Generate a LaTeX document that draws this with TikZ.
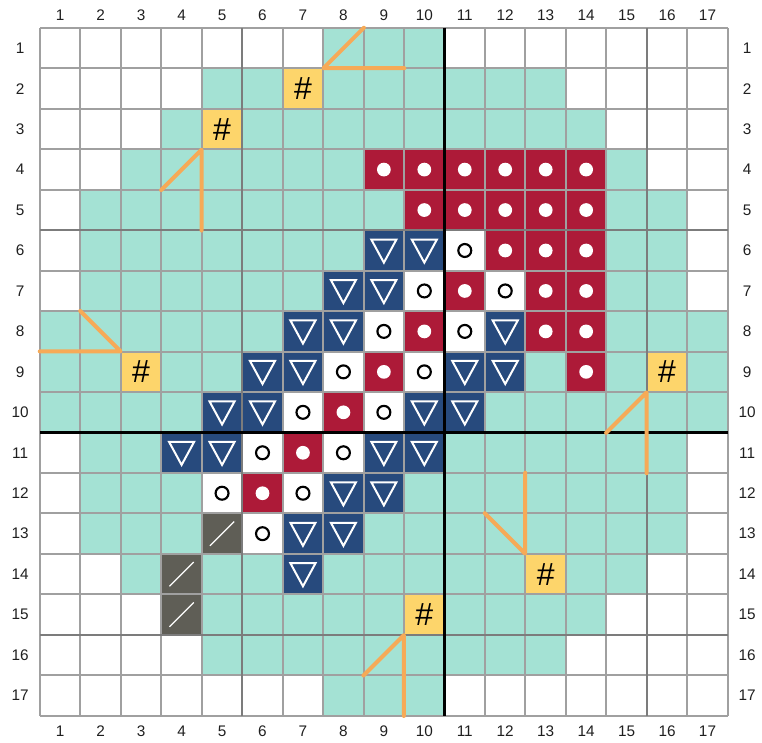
\documentclass[tikz,border=0pt]{standalone}
\usepackage{fontspec}
\setmainfont{Liberation Sans}
\usepackage{tikz}
\usetikzlibrary{positioning,calc}
\usepackage{xcolor}

\definecolor{tealcell}{HTML}{A4E2D4}
\definecolor{redcell}{HTML}{AD1A38}
\definecolor{bluecell}{HTML}{274A7D}
\definecolor{yellowcell}{HTML}{FDD56B}
\definecolor{darkcell}{HTML}{5F5E56}
\definecolor{orangemark}{HTML}{F6AA57}
\definecolor{gridgray}{HTML}{A0A0A0}
\definecolor{blockgray}{HTML}{7C7C7C}

\begin{document}
\begin{tikzpicture}[x=30.34pt,y=-30.34pt,font=\fontsize{11.5}{13}\selectfont,
  gridline/.style={gridgray,line width=1.5pt},
  blockline/.style={blockgray,line width=1.7pt},
  axisline/.style={black,line width=2.6pt},
  orangeline/.style={orangemark,line width=3pt,line cap=round,line join=round},
  hashmark/.style={minimum size=30.34pt,inner sep=0pt,
    font=\fontsize{24}{24}\selectfont},
  numlabel/.style={text=black!88}]
\useasboundingbox (-0.989,-0.692) rectangle (17.847,17.652);

% One macro per cell kind, drawn round the cell centre.
\newcommand{\cellw}{\fill[white] (-0.5,-0.5) rectangle (0.5,0.5);}
\newcommand{\cellg}{\fill[tealcell] (-0.5,-0.5) rectangle (0.5,0.5);}
\newcommand{\celly}{\fill[yellowcell] (-0.5,-0.5) rectangle (0.5,0.5);}
\newcommand{\cellr}{%
  \fill[redcell] (-0.5,-0.5) rectangle (0.5,0.5);
  \fill[white] (0,0) circle (0.17);}
\newcommand{\cellb}{%
  \fill[bluecell] (-0.5,-0.5) rectangle (0.5,0.5);
  \draw[white,line width=1.5pt]
    (-0.31,-0.27) -- (0.31,-0.27) -- (0,0.30) -- cycle;}
\newcommand{\cello}{%
  \fill[white] (-0.5,-0.5) rectangle (0.5,0.5);
  \draw[black,line width=1.6pt] (0,0) circle (0.16);}
\newcommand{\celld}{%
  \fill[darkcell] (-0.5,-0.5) rectangle (0.5,0.5);
  \draw[white,line width=0.9pt] (-0.3,0.3) -- (0.3,-0.3);}

% Board, row by row.
\foreach \cells [count=\r] in {
  {w,w,w,w,w,w,w,g,g,g,w,w,w,w,w,w,w},
  {w,w,w,w,g,g,y,g,g,g,g,g,g,w,w,w,w},
  {w,w,w,g,y,g,g,g,g,g,g,g,g,g,w,w,w},
  {w,w,g,g,g,g,g,g,r,r,r,r,r,r,g,w,w},
  {w,g,g,g,g,g,g,g,g,r,r,r,r,r,g,g,w},
  {w,g,g,g,g,g,g,g,b,b,o,r,r,r,g,g,w},
  {w,g,g,g,g,g,g,b,b,o,r,o,r,r,g,g,w},
  {g,g,g,g,g,g,b,b,o,r,o,b,r,r,g,g,g},
  {g,g,y,g,g,b,b,o,r,o,b,b,g,r,g,y,g},
  {g,g,g,g,b,b,o,r,o,b,b,g,g,g,g,g,g},
  {w,g,g,b,b,o,r,o,b,b,g,g,g,g,g,g,w},
  {w,g,g,g,o,r,o,b,b,g,g,g,g,g,g,g,w},
  {w,g,g,g,d,o,b,b,g,g,g,g,g,g,g,g,w},
  {w,w,g,d,g,g,b,g,g,g,g,g,y,g,g,w,w},
  {w,w,w,d,g,g,g,g,g,y,g,g,g,g,w,w,w},
  {w,w,w,w,g,g,g,g,g,g,g,g,g,w,w,w,w},
  {w,w,w,w,w,w,w,g,g,g,w,w,w,w,w,w,w}}{
  \foreach \kind [count=\c] in \cells {
    \begin{scope}[shift={(\c-0.5,\r-0.5)}]
      \csname cell\kind\endcsname
    \end{scope}
  }
}

% Grid, heavier every five cells, then the two axes.
\foreach \k in {0,...,17} {
  \draw[gridline] (\k,0) -- (\k,17);
  \draw[gridline] (0,\k) -- (17,\k);
}
\foreach \k in {5,10,15} {
  \draw[blockline] (\k,0) -- (\k,17);
  \draw[blockline] (0,\k) -- (17,\k);
}
\draw[axisline] (10,0) -- (10,17);
\draw[axisline] (0,10) -- (17,10);

% Marked cells.
\foreach \c/\r in {7/2,5/3,3/9,16/9,13/14,10/15}
  \node[hashmark] (hash\c-\r) at (\c-0.5,\r-0.5) {\#};

% Orange sight lines from a corner of each marked cell.
\draw[orangeline] (hash5-3.south west) ++(-1,1) -- (hash5-3.south west) -- ++(0,2);
\draw[orangeline] (hash7-2.north east) ++(1,-1) -- (hash7-2.north east) -- ++(2,0);
\draw[orangeline] (hash3-9.north west) ++(-1,-1) -- (hash3-9.north west) -- ++(-2,0);
\draw[orangeline] (hash16-9.south west) ++(-1,1) -- (hash16-9.south west) -- ++(0,2);
\draw[orangeline] (hash13-14.north west) ++(-1,-1) -- (hash13-14.north west) -- ++(0,-2);
\draw[orangeline] (hash10-15.south west) ++(-1,1) -- (hash10-15.south west) -- ++(0,2);

% Row and column numbers on all four sides.
\foreach \k in {1,...,17} {
  \node[numlabel] (top\k) at (\k-0.5,-0.32) {\k};
  \node[numlabel] (bottom\k) at (\k-0.5,17.38) {\k};
  \node[numlabel] (left\k) at (-0.49,\k-0.5) {\k};
  \node[numlabel] (right\k) at (17.48,\k-0.5) {\k};
}

\end{tikzpicture}
\end{document}
